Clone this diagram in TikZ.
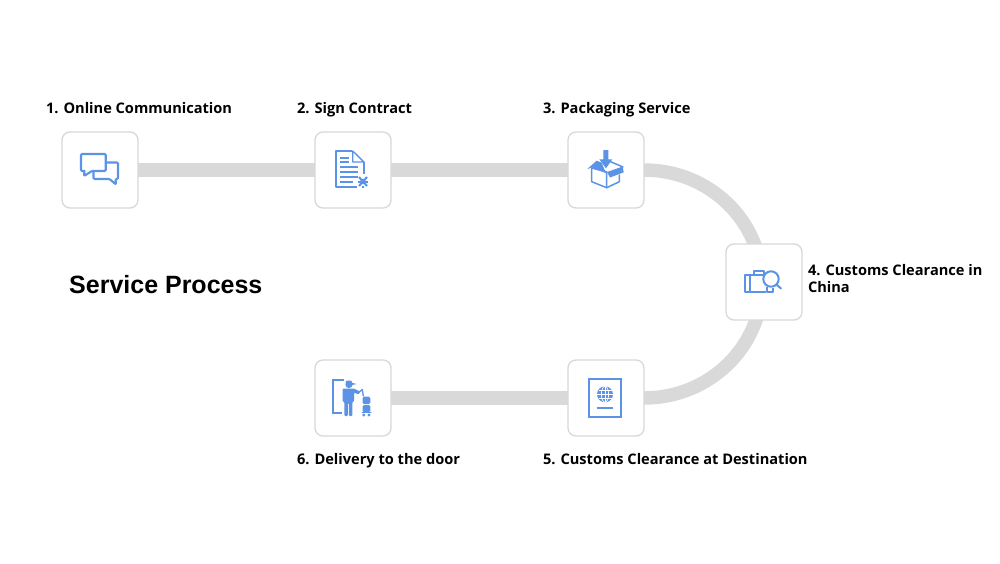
\documentclass[tikz,border=0pt]{standalone}
\usepackage{fontspec}
\setmainfont{Open Sans}
\newfontfamily\titlefont{Liberation Sans}
\definecolor{iconblue}{HTML}{5B93E6}
\definecolor{trackgray}{HTML}{D9D9D9}
\definecolor{boxgray}{HTML}{D8D8D8}
\tikzset{
  stepbox/.style={draw=boxgray,line width=1.3pt,fill=white,rounded corners=8pt,minimum width=76pt,minimum height=76pt,inner sep=0pt,outer sep=0pt},
  track/.style={draw=trackgray,line width=13.5pt},
  steplabel/.style={anchor=base west,inner sep=0pt,outer sep=0pt,font=\fontsize{14.6}{17}\selectfont\bfseries},
  ico/.style={draw=iconblue,line width=2.1pt,line join=round,line cap=round},
  icof/.style={fill=iconblue,draw=none},
}
\begin{document}
\begin{tikzpicture}[x=1pt,y=-1pt]
\useasboundingbox (0,0) rectangle (1000,563);
\fill[white] (0,0) rectangle (1000,563);
\node[stepbox,draw=none,fill=none] (b1) at (100,170) {};
\node[stepbox,draw=none,fill=none] (b2) at (353,170) {};
\node[stepbox,draw=none,fill=none] (b3) at (606,170) {};
\node[stepbox,draw=none,fill=none] (b4) at (764,282) {};
\node[stepbox,draw=none,fill=none] (b5) at (606,398) {};
\node[stepbox,draw=none,fill=none] (b6) at (353,398) {};
\draw[track] (b1) -- (b2);
\draw[track] (b2) -- (b3);
\draw[track] (b3.east) arc[start angle=-90,end angle=90,x radius=118,y radius=114];
\draw[track] (b5) -- (b6);
\node[stepbox] at (b1) {};
\node[stepbox] at (b2) {};
\node[stepbox] at (b3) {};
\node[stepbox] at (b4) {};
\node[stepbox] at (b5) {};
\node[stepbox] at (b6) {};
% labels
\node[steplabel] (l1) at (46,113) {1. Online Communication};
\node[steplabel] (l2) at (297,113) {2. Sign Contract};
\node[steplabel] (l3) at (543,113) {3. Packaging Service};
\node[steplabel] (l4a) at (808,275) {4. Customs Clearance in};
\node[steplabel] (l4b) at (808,292) {China};
\node[steplabel] (l5) at (543,464) {5. Customs Clearance at Destination};
\node[steplabel] (l6) at (297,464) {6. Delivery to the door};
\node[anchor=base west,inner sep=0pt,font=\titlefont\fontsize{25}{30}\selectfont\bfseries] (t) at (69,293) {Service Process};
% icon 1
\draw[ico,rounded corners=1pt] (84.5,171) -- (81,171) -- (81,154) -- (105.7,154) -- (105.7,171) -- (92,171) -- (84,176) -- (84.5,171);
\draw[ico,rounded corners=1pt] (106,162.5) -- (118,162.5) -- (118,179) -- (115.5,179) -- (116,184.5) -- (109.5,179) -- (93.5,179) -- (93.5,172);
% icon 2
\draw[ico,line cap=butt,line width=2pt] (352,151) -- (336,151) -- (336,187.3) -- (356.7,187.3);
\draw[ico,line width=1.4pt] (352.7,151) -- (364,162) -- (352.7,162) -- cycle;
\draw[ico,line width=1.4pt,line cap=butt] (364,162) -- (364,174);
\foreach \ya/\xb in {157.7/349,162.3/349,167.3/358.3,172.3/358.3,177.3/358.3,182.3/353.3}
  \draw[ico,line width=2pt,line cap=butt] (340,\ya) -- (\xb,\ya);
\draw[ico,line width=2pt,line cap=butt] (359,177) -- (367,186) (367,177) -- (359,186);
\fill[iconblue] (363,181.5) circle (2.8);
\draw[ico,line width=1.2pt,line cap=butt] (358,182) -- (368,182) (363,186) -- (363,188);
% icon 3
\fill[icof] (603.3,150) -- (608.3,150) -- (608.3,159.3) -- (612.3,159.3) -- (606,168.3) -- (599.3,159.3) -- (603.3,159.3) -- cycle;
\draw[ico,line width=1.5pt] (591.7,168.5) -- (591.7,181.7) -- (606.7,187.7) -- (619.3,181.7) -- (619.3,175);
\draw[ico,line width=1.5pt] (606.7,187.7) -- (606.7,172) -- (591.7,168);
\fill[icof] (587.3,169) -- (596.7,160.7) -- (601.7,162.7) -- (604.3,169.3) -- (606.7,173.3) -- (592,167.5) -- cycle;
\fill[icof] (607,172) -- (622.7,166.5) -- (623.7,172.3) -- (610,177.5) -- cycle;
\draw[ico,line width=1.5pt] (610.5,161.7) -- (623,167);
% icon 4
\draw[ico,line width=2pt,line cap=butt] (766,292.3) -- (745,292.3) -- (745,275) -- (767,275);
\draw[ico,line width=2pt,line cap=butt] (767,287) -- (767,292.3) -- (773,292.3) -- (773,288);
\draw[ico,line width=2pt,line cap=butt] (749.5,275) -- (749.5,292.3);
\draw[ico,line width=2pt,line cap=butt] (753.5,275) -- (753.5,271) -- (764,271) -- (764,275);
\draw[ico,line width=2pt,fill=white] (771,279) circle (7.7);
\draw[ico,line width=2pt] (776.5,284.5) -- (781,288.5);
% icon 5
\draw[ico,line width=2.2pt,line cap=butt,line join=miter] (589.3,379.3) rectangle (620.7,416.7);
\fill[iconblue] (605,394.3) circle (8);
\draw[white,line width=.7pt] (597,394.3) -- (613,394.3) (598.5,390.5) -- (611.5,390.5) (598.5,398.2) -- (611.5,398.2) (605,386.3) -- (605,402.3);
\draw[white,line width=.7pt] (605,394.3) ellipse (3.6 and 8);
\draw[ico,line width=1.8pt,line cap=butt] (596.7,407.7) -- (613.3,407.7);
% icon 6
\draw[ico,line width=2pt,line cap=butt,line join=miter] (344,380) -- (333.3,380) -- (333.3,412.7) -- (341.5,412.7);
\fill[iconblue] (349,384.5) circle (3.6);
\fill[iconblue] (345.5,383) -- (346.5,380.5) -- (351,380.5) -- (352.5,383) -- (356.7,384) -- (352,385) -- cycle;
\fill[iconblue,rounded corners=1pt] (342.7,388.5) -- (354,388.5) -- (360,391.5) -- (358.8,394.5) -- (354,392.5) -- (354,401.7) -- (352.4,401.7) -- (352.4,416) -- (348.8,416) -- (348.8,403) -- (347.8,403) -- (347.8,416) -- (344.3,416) -- (344.3,401.7) -- (342.7,401.7) -- cycle;
\draw[ico,line width=1.3pt] (358.5,392.5) -- (362.3,389.5) -- (363.3,396);
\fill[iconblue,rounded corners=1.5pt] (362.5,396.7) rectangle (370.3,404);
\fill[iconblue,rounded corners=1.5pt] (362.5,405) rectangle (370.3,412.3);
\fill[iconblue] (363.8,415) circle (1.6) (369,415) circle (1.6);
\draw[ico,line width=1pt] (362,412.8) -- (371,412.8);
\end{tikzpicture}
\end{document}
